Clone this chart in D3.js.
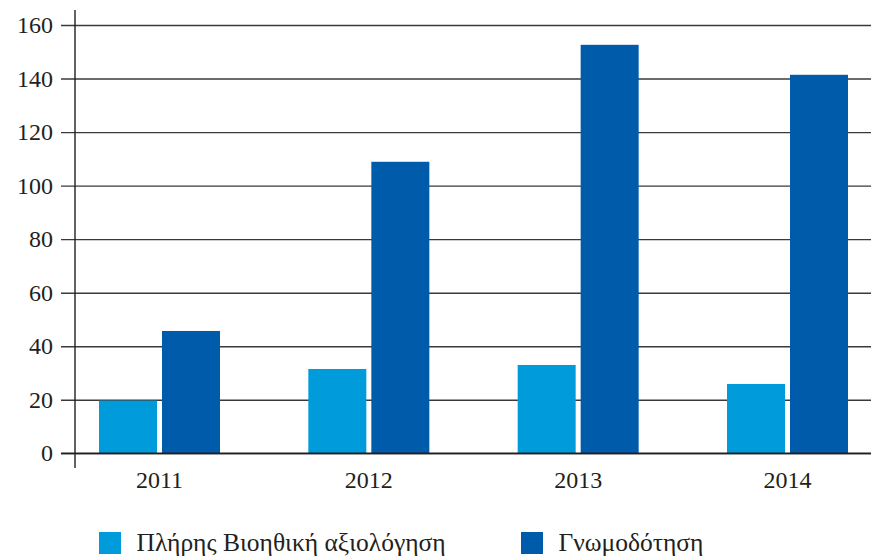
<!DOCTYPE html>
<html>
<head>
<meta charset="utf-8">
<script src="https://cdn.jsdelivr.net/npm/d3@7"></script>
</head>
<body style="margin:0">
<div id="chart"></div>
<script>
// Data
const years = ["2011", "2012", "2013", "2014"];
const seriesNames = ["Πλήρης Βιοηθική αξιολόγηση", "Γνωμοδότηση"];
const fullEvaluation = [19.7, 31.5, 33.0, 25.9];
const opinion = [45.7, 108.9, 152.6, 141.4];
const yTicks = [0, 20, 40, 60, 80, 100, 120, 140, 160];
const colors = ["#009bdb", "#005baa"];

function draw() {
  const dataset = years.map((year, i) => ({
    year,
    values: [fullEvaluation[i], opinion[i]],
  }));

  // Dimensions
  const width = 871;
  const height = 559;
  const axisX = 75;
  const baseY = 453.3;
  const topY = 25;
  const textColor = "#231f20";

  const svg = d3
    .select("#chart")
    .append("svg")
    .attr("width", width)
    .attr("height", height);

  const yScale = d3.scaleLinear().domain([0, 160]).range([baseY, topY]);
  const xScale = d3.scalePoint().domain(years).range([159.5, 787.5]);
  const innerScale = d3
    .scaleBand()
    .domain([0, 1])
    .range([-60.5, 60.5])
    .paddingInner(5 / 63);

  // Gridlines
  const yAxis = d3
    .axisLeft(yScale)
    .tickValues(yTicks)
    .tickSize(-(width - axisX))
    .tickFormat("");

  const yAxisGroup = svg
    .append("g")
    .attr("transform", `translate(${axisX},0)`)
    .call(yAxis);
  yAxisGroup.select(".domain").remove();
  yAxisGroup.selectAll(".tick text").remove();
  yAxisGroup
    .selectAll(".tick line")
    .attr("x1", -14)
    .attr("stroke", "#3a3a3a")
    .attr("stroke-width", 1.4);

  // Y labels
  svg
    .selectAll(".ylabel")
    .data(yTicks)
    .join("text")
    .attr("class", "ylabel")
    .attr("x", axisX - 22)
    .attr("y", (d) => yScale(d) + 8)
    .attr("text-anchor", "end")
    .attr("font-size", 24)
    .attr("fill", textColor)
    .style("font-family", '"Liberation Serif"')
    .text((d) => d);

  // Bars
  const groups = svg
    .selectAll(".year")
    .data(dataset)
    .join("g")
    .attr("class", "year")
    .attr("transform", (d) => `translate(${xScale(d.year)},0)`);

  groups
    .selectAll("rect")
    .data((d) => d.values)
    .join("rect")
    .attr("x", (d, i) => innerScale(i))
    .attr("width", innerScale.bandwidth())
    .attr("y", (d) => yScale(d))
    .attr("height", (d) => baseY - yScale(d))
    .attr("fill", (d, i) => colors[i]);

  // Vertical axis line
  svg
    .append("line")
    .attr("x1", axisX)
    .attr("x2", axisX)
    .attr("y1", 10)
    .attr("y2", 468)
    .attr("stroke", textColor)
    .attr("stroke-width", 1.4);

  // Zero line on top of bars
  svg
    .append("line")
    .attr("x1", axisX - 14)
    .attr("x2", width)
    .attr("y1", yScale(0))
    .attr("y2", yScale(0))
    .attr("stroke", textColor)
    .attr("stroke-width", 1.4);

  // X labels
  svg
    .selectAll(".xlabel")
    .data(years)
    .join("text")
    .attr("class", "xlabel")
    .attr("x", (d) => xScale(d))
    .attr("y", baseY + 34.4)
    .attr("text-anchor", "middle")
    .attr("font-size", 24)
    .attr("fill", textColor)
    .style("font-family", '"Liberation Serif"')
    .text((d) => d);

  // Legend
  const legendX = [99, 521];
  svg
    .selectAll(".legend-box")
    .data(seriesNames)
    .join("rect")
    .attr("class", "legend-box")
    .attr("x", (d, i) => legendX[i])
    .attr("y", 532)
    .attr("width", 22)
    .attr("height", 22)
    .attr("fill", (d, i) => colors[i]);

  svg
    .selectAll(".legend-text")
    .data(seriesNames)
    .join("text")
    .attr("class", "legend-text")
    .attr("x", (d, i) => legendX[i] + 37.5)
    .attr("y", 550.5)
    .attr("font-size", 25.5)
    .attr("fill", textColor)
    .style("font-family", '"Liberation Serif"')
    .text((d) => d);
}

draw();
</script>
</body>
</html>
